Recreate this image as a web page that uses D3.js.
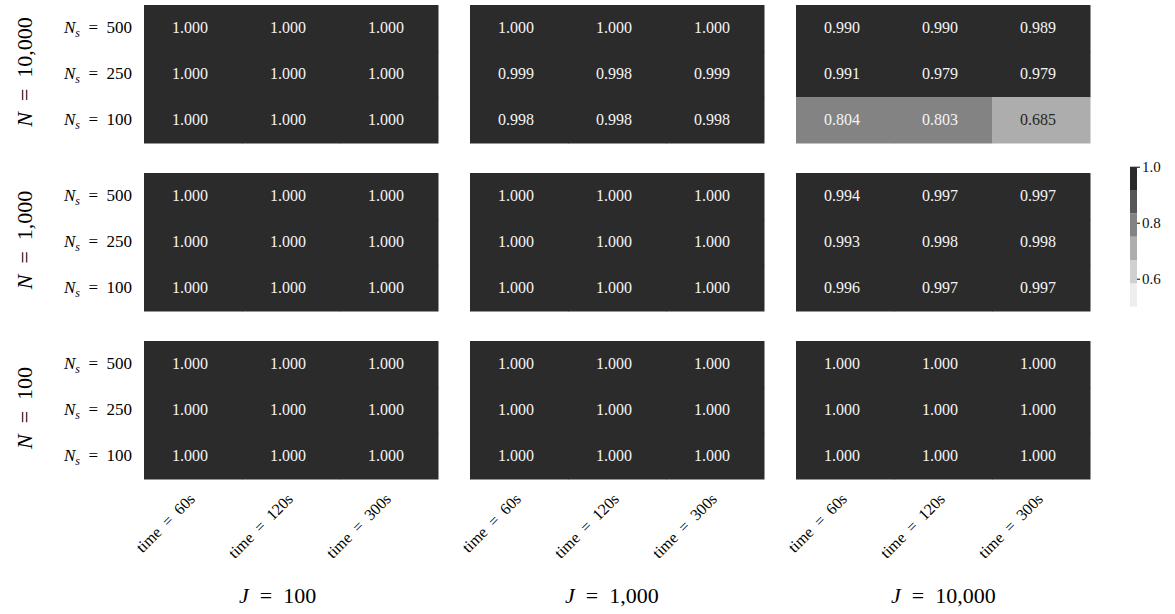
<!DOCTYPE html>
<html>
<head><meta charset="utf-8"><script src="https://cdn.jsdelivr.net/npm/d3@7"></script></head>
<body style="margin:0">
<div id="c"></div>
<script>
const J_LABELS = ["100", "1,000", "10,000"];
const N_LABELS = ["10,000", "1,000", "100"];
const NS_LABELS = ["500", "250", "100"];
const TIME_LABELS = ["60s", "120s", "300s"];

// rows: Ns = 500, 250, 100 ; cols: time = 60s, 120s, 300s ; one block per J
const scoresN10000 = [
    [[1.000, 1.000, 1.000], [1.000, 1.000, 1.000], [1.000, 1.000, 1.000]],
    [[1.000, 1.000, 1.000], [0.999, 0.998, 0.999], [0.998, 0.998, 0.998]],
    [[0.990, 0.990, 0.989], [0.991, 0.979, 0.979], [0.804, 0.803, 0.685]]
];
const scoresN1000 = [
    [[1.000, 1.000, 1.000], [1.000, 1.000, 1.000], [1.000, 1.000, 1.000]],
    [[1.000, 1.000, 1.000], [1.000, 1.000, 1.000], [1.000, 1.000, 1.000]],
    [[0.994, 0.997, 0.997], [0.993, 0.998, 0.998], [0.996, 0.997, 0.997]]
];
const scoresN100 = [
    [[1.000, 1.000, 1.000], [1.000, 1.000, 1.000], [1.000, 1.000, 1.000]],
    [[1.000, 1.000, 1.000], [1.000, 1.000, 1.000], [1.000, 1.000, 1.000]],
    [[1.000, 1.000, 1.000], [1.000, 1.000, 1.000], [1.000, 1.000, 1.000]]
];
const COLORBAR_TICKS = [0.6, 0.8, 1.0];
const GREYS = ["#eeeeee", "#d0d0d0", "#adadad", "#838383", "#575757", "#2b2b2b"];

const allScores = [scoresN10000, scoresN1000, scoresN100];

const FONT = "Liberation Serif";
const FONT_STYLE = "font-family: 'Liberation Serif'";

let svg = d3.select("#c").append("svg").attr("width", 1175).attr("height", 614);

// panel layout
let colScale = d3.scaleBand()
    .domain(J_LABELS)
    .range([144, 1090])
    .paddingInner(32 / 326);

let rowScale = d3.scaleBand()
    .domain(N_LABELS)
    .range([5, 479])
    .paddingInner(30 / 168);

let x = d3.scaleBand()
    .domain(TIME_LABELS)
    .range([0, colScale.bandwidth()]);

let y = d3.scaleBand()
    .domain(NS_LABELS)
    .range([0, rowScale.bandwidth()]);

let color = d3.scaleQuantize()
    .domain([0.5, 1.0])
    .range(GREYS);

function textColor(fill) {
    let c = d3.rgb(fill);
    let lum = (0.299 * c.r + 0.587 * c.g + 0.114 * c.b) / 255;
    return lum > 0.6 ? "#262626" : "#f4f4f4";
}

function addText(parent, size) {
    return parent.append("text")
        .attr("font-family", FONT)
        .attr("style", FONT_STYLE)
        .attr("font-size", size);
}

// "X = v" labels with an italic variable and optional subscript
function mathText(sel, variable, sub, value) {
    sel.append("tspan").attr("font-style", "italic").text(variable);
    if (sub) {
        sel.append("tspan")
            .attr("font-style", "italic")
            .attr("font-size", "0.7em")
            .attr("dy", "0.3em")
            .text(sub);
        sel.append("tspan").attr("dy", "-0.21em").text("\u2002=\u2002" + value);
    } else {
        sel.append("tspan").text("\u2002=\u2002" + value);
    }
}

N_LABELS.forEach(function (nLabel, ni) {
    J_LABELS.forEach(function (jLabel, ji) {
        let block = allScores[ni][ji];
        let cells = [];
        NS_LABELS.forEach(function (ns, r) {
            TIME_LABELS.forEach(function (t, c) {
                cells.push({ns: ns, time: t, value: block[r][c]});
            });
        });

        let g = svg.append("g")
            .attr("transform", "translate(" + colScale(jLabel) + "," + rowScale(nLabel) + ")");

        g.selectAll("rect")
            .data(cells)
            .enter()
            .append("rect")
            .attr("x", d => x(d.time))
            .attr("y", d => y(d.ns))
            .attr("width", x.bandwidth() + 0.5)
            .attr("height", y.bandwidth() + 0.5)
            .attr("fill", d => color(d.value));

        g.selectAll("text.val")
            .data(cells)
            .enter()
            .append("text")
            .attr("class", "val")
            .attr("font-family", FONT)
            .attr("style", FONT_STYLE)
            .attr("font-size", "16px")
            .attr("x", d => x(d.time) + x.bandwidth() / 2 - 3)
            .attr("y", d => y(d.ns) + y.bandwidth() / 2)
            .attr("dy", "0.33em")
            .attr("text-anchor", "middle")
            .attr("fill", d => textColor(color(d.value)))
            .text(d => d.value.toFixed(3));

        // Ns labels on the left of each row block
        if (ji === 0) {
            NS_LABELS.forEach(function (ns) {
                let t = addText(g, "17px")
                    .attr("x", -12)
                    .attr("y", y(ns) + y.bandwidth() / 2)
                    .attr("dy", "0.3em")
                    .attr("text-anchor", "end");
                mathText(t, "N", "s", ns);
            });
        }
    });

    // N group label
    let cy = rowScale(nLabel) + rowScale.bandwidth() / 2 - 2;
    let lab = addText(svg, "22px")
        .attr("transform", "translate(32," + cy + ") rotate(-90)")
        .attr("text-anchor", "middle");
    mathText(lab, "N", null, nLabel);
});

// time tick labels under the bottom row, then J labels
J_LABELS.forEach(function (jLabel) {
    let left = colScale(jLabel);
    TIME_LABELS.forEach(function (t) {
        let px = left + x(t) + x.bandwidth() / 2 + 3;
        addText(svg, "16px")
            .attr("transform", "translate(" + px + ",500) rotate(-45)")
            .attr("text-anchor", "end")
            .text("time\u2002=\u2002" + t);
    });

    let jl = addText(svg, "22px")
        .attr("x", left + 95)
        .attr("y", 603);
    mathText(jl, "J", null, jLabel);
});

// colour bar
let cbTop = 166.7, cbBottom = 306.7, cbX = 1130, cbW = 7;
let cbScale = d3.scaleLinear()
    .domain([0.5, 1.0])
    .range([cbBottom, cbTop]);

let cb = svg.append("g");
cb.selectAll("rect")
    .data(GREYS)
    .enter()
    .append("rect")
    .attr("x", cbX)
    .attr("width", cbW)
    .attr("y", d => cbScale(color.invertExtent(d)[1]))
    .attr("height", d => cbScale(color.invertExtent(d)[0]) - cbScale(color.invertExtent(d)[1]))
    .attr("fill", d => d);

let cbAxis = cb.append("g")
    .attr("transform", "translate(" + (cbX + cbW) + ",0)")
    .call(d3.axisRight(cbScale).tickValues(COLORBAR_TICKS).tickFormat(d3.format(".1f")).tickSize(3).tickPadding(2));
cbAxis.attr("font-family", FONT).attr("font-size", "15px");
cbAxis.select(".domain").remove();
cbAxis.selectAll("text")
    .attr("font-family", FONT)
    .attr("style", FONT_STYLE)
    .attr("fill", "#111");
</script>
</body>
</html>
